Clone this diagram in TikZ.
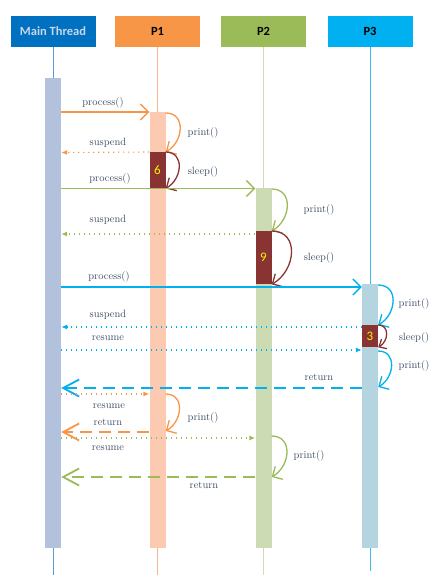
\documentclass[tikz,border=0pt]{standalone}
\usepackage{fontspec}
\newfontfamily\hdfont{Carlito}
\usetikzlibrary{arrows.meta}
\definecolor{mtblue}{RGB}{0,112,192}
\definecolor{mttext}{RGB}{200,216,236}
\definecolor{porange}{RGB}{247,150,70}
\definecolor{pgreen}{RGB}{155,187,89}
\definecolor{pcyan}{RGB}{0,176,240}
\definecolor{sleepred}{RGB}{137,52,50}
\definecolor{lblcol}{RGB}{62,78,102}
\definecolor{mtline}{RGB}{91,155,213}
\definecolor{p1line}{RGB}{248,180,140}
\definecolor{p2line}{RGB}{205,222,178}
\definecolor{p3line}{RGB}{60,190,240}
\definecolor{mtbar}{RGB}{179,194,220}
\definecolor{p1bar}{RGB}{251,202,176}
\definecolor{p2bar}{RGB}{205,219,181}
\definecolor{p3bar}{RGB}{180,213,224}
\begin{document}
\begin{tikzpicture}[x=1pt,y=-1pt,
    head/.style={minimum width=85pt,minimum height=31pt,inner sep=0pt,font=\hdfont\bfseries\fontsize{12.5}{14}\selectfont},
    life/.style={line width=1pt},
    bar/.style={minimum width=16pt,inner sep=0pt,anchor=north},
    slp/.style={fill=sleepred,minimum width=16pt,inner sep=0pt,anchor=north,text=yellow,font=\hdfont\fontsize{13}{14}\selectfont},
    lbl/.style={text=lblcol,font=\fontsize{10.5}{12}\selectfont,inner sep=0pt},
    msg/.style={line width=1.3pt,-{Straight Barb[length=8pt,width=16pt]}},
    self/.style={line width=1.3pt,-{Straight Barb[length=7.5pt,width=15pt]},looseness=1.35},
    dot/.style={line width=1.1pt,dash pattern=on 1.1pt off 3.9pt,-{Latex[length=6pt,width=5pt]}},
    ret/.style={line width=1.8pt,dash pattern=on 12pt off 7pt,-{Straight Barb[length=16pt,width=17pt]}}]
    \useasboundingbox (0,0) rectangle (440,588);

    % headers
    \node[head,fill=mtblue,text=mttext] (mt) at (53,31.5) {Main Thread};
    \node[head,fill=porange] (p1) at (157.5,31.5) {P1};
    \node[head,fill=pgreen] (p2) at (263.5,31.5) {P2};
    \node[head,fill=pcyan] (p3) at (370,31.5) {P3};

    % lifelines
    \foreach \n/\c/\e in {mt/mtline/575, p1/p1line/575, p2/p2line/575, p3/p3line/571}
        \draw[life,\c] (\n.south) -- (\n.south |- 0,\e);

    % activation bars
    \node[bar,fill=mtbar,minimum height=470pt] (mtb) at (53,78) {};
    \node[bar,fill=p1bar,minimum height=436pt] (p1b) at (157.5,112) {};
    \node[bar,fill=p2bar,minimum height=360pt] (p2b) at (263.5,188) {};
    \node[bar,fill=p3bar,minimum height=264pt] (p3b) at (370,284) {};

    % sleeping parts
    \node[slp,minimum height=36pt] (s1) at (157.5,152) {6};
    \node[slp,minimum height=53pt] (s2) at (263.5,231) {9};
    \node[slp,minimum height=22pt] (s3) at (370,325) {3};

    % P1
    \draw[msg,porange] (mtb.east |- 0,112) -- (p1b.west |- 0,112);
    \node[lbl] (l1) at (103,103) {process()};
    \draw[self,porange] (p1b.east |- 0,113) to[out=0,in=30] (s1.north east);
    \node[lbl] (l2) at (203,133) {print()};
    \draw[dot,porange] (s1.north west) -- (mtb.east |- 0,152.5);
    \node[lbl] (l3) at (108,143) {suspend};
    \draw[self,sleepred] (s1.north east) to[out=0,in=30] (s1.south east);
    \node[lbl] (l4) at (203,172) {sleep()};

    % P2
    \draw[msg,pgreen] (mtb.east |- 0,188.5) -- (p2b.west |- 0,188.5);
    \node[lbl] (l5) at (110,179) {process()};
    \draw[self,pgreen] (p2b.east |- 0,189) to[out=0,in=30] (s2.north east);
    \node[lbl] (l6) at (319,210) {print()};
    \draw[dot,pgreen] (s2.west |- 0,234) -- (mtb.east |- 0,234);
    \node[lbl] (l7) at (108,220) {suspend};
    \draw[self,sleepred] (s2.north east) to[out=0,in=30] (s2.south east);
    \node[lbl] (l8) at (319,258) {sleep()};

    % P3
    \draw[msg,pcyan] (mtb.east |- 0,287) -- (p3b.west |- 0,287);
    \node[lbl] (l9) at (109,277) {process()};
    \draw[self,pcyan] (p3b.east |- 0,285) to[out=0,in=30] (s3.north east);
    \node[lbl] (l10) at (414,304) {print()};
    \draw[dot,pcyan] (s3.west |- 0,327) -- (mtb.east |- 0,327);
    \node[lbl] (l11) at (108,315) {suspend};
    \draw[self,sleepred,-{Straight Barb[length=6pt,width=11pt]}] (s3.north east) to[out=0,in=30] (s3.south east);
    \node[lbl] (l12) at (414,338) {sleep()};
    \draw[dot,pcyan] (mtb.east |- 0,350) -- (p3b.west |- 0,350);
    \node[lbl] (l13) at (108,338) {resume};
    \draw[self,pcyan] (p3b.east |- 0,351) to[out=0,in=30] (p3b.east |- 0,387);
    \node[lbl] (l14) at (414,366) {print()};
    \draw[ret,pcyan] (p3b.west |- 0,388) -- (mtb.east |- 0,388);
    \node[lbl] (l15) at (319,377) {return};

    % back to P1 and P2
    \draw[dot,porange] (mtb.east |- 0,394) -- (p1b.west |- 0,394);
    \node[lbl] (l16) at (109,406) {resume};
    \draw[self,porange] (p1b.east |- 0,394) to[out=0,in=30] (p1b.east |- 0,431);
    \node[lbl] (l17) at (203,418) {print()};
    \draw[ret,porange] (p1b.west |- 0,432) -- (mtb.east |- 0,432);
    \node[lbl] (l18) at (108,422) {return};
    \draw[dot,pgreen] (mtb.east |- 0,438) -- (p2b.west |- 0,438);
    \node[lbl] (l19) at (108,448) {resume};
    \draw[self,pgreen] (p2b.east |- 0,436) to[out=0,in=30] (p2b.east |- 0,477);
    \node[lbl] (l20) at (309,456) {print()};
    \draw[ret,pgreen] (p2b.west |- 0,477) -- (mtb.east |- 0,477);
    \node[lbl] (l21) at (204,485) {return};
\end{tikzpicture}
\end{document}
